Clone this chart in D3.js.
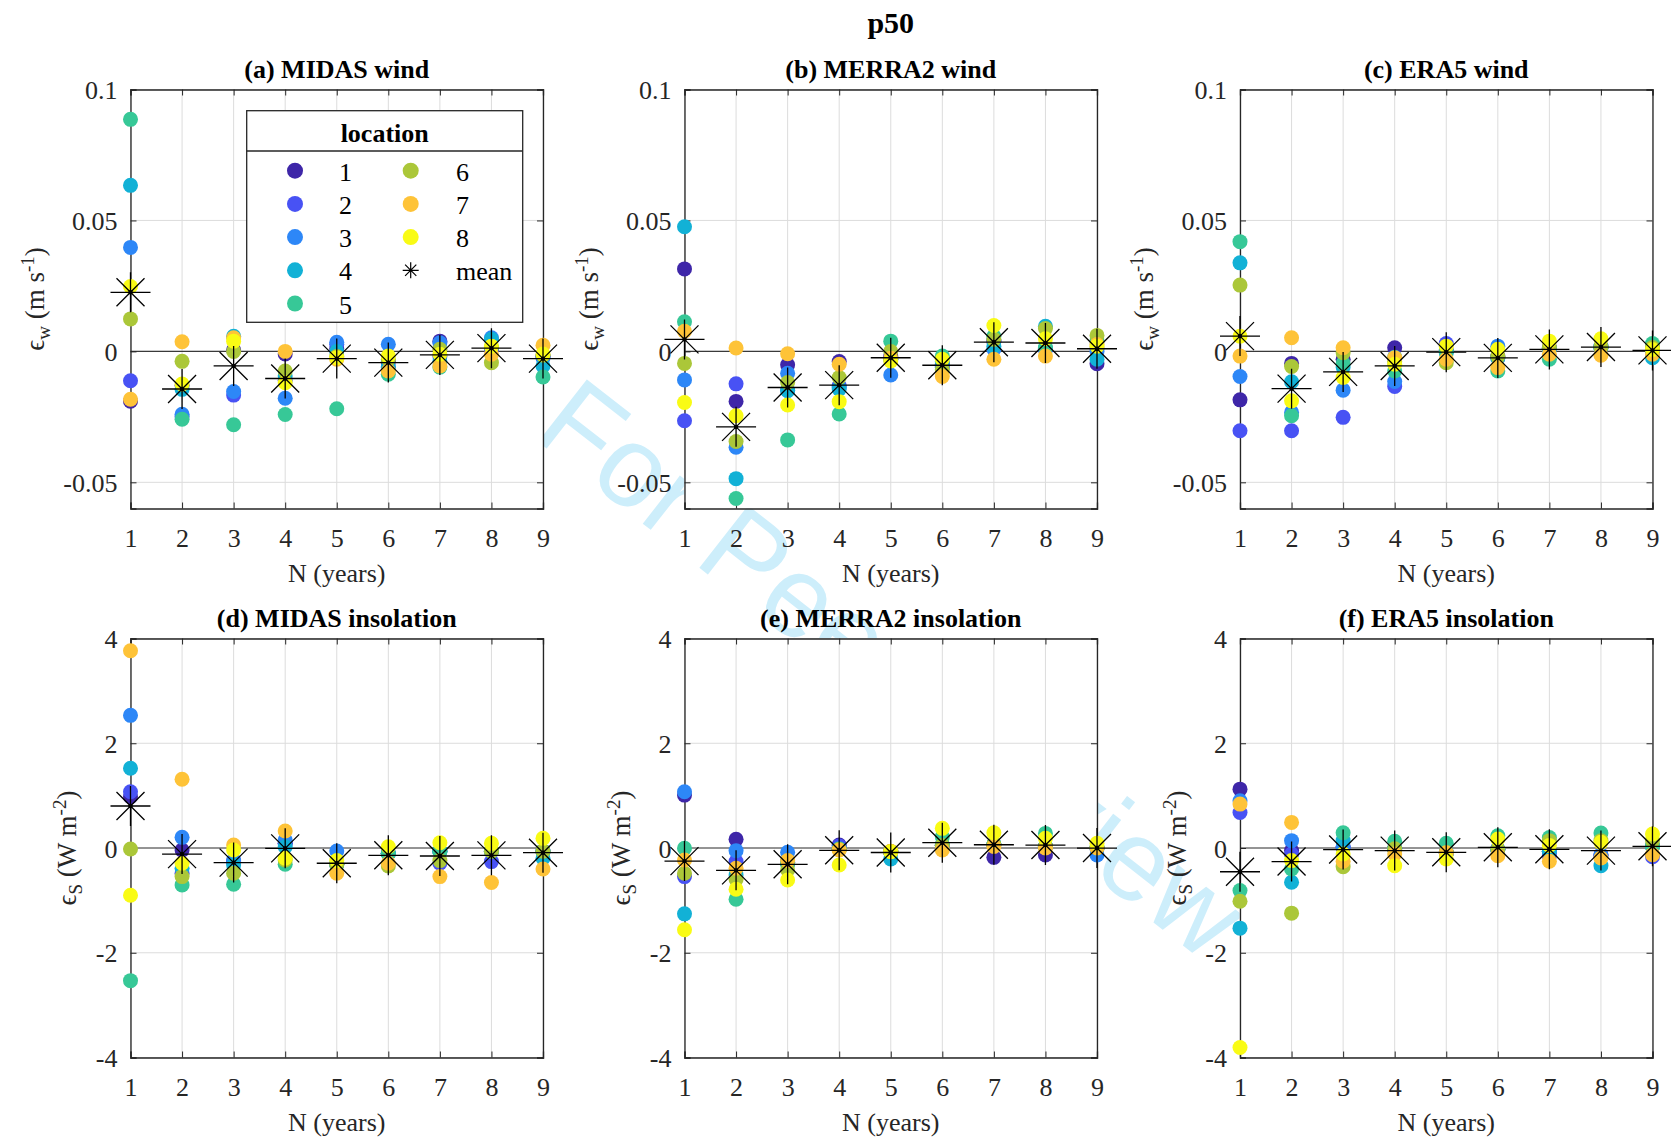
<!DOCTYPE html>
<html>
<head>
<meta charset="utf-8">
<script src="https://cdn.jsdelivr.net/npm/d3@7"></script>
<style>
  body { margin: 0; background: #fff; }
  svg text { font-family: "Liberation Serif", "Times New Roman", serif; }
</style>
</head>
<body>
<svg id="fig" width="1671" height="1137"></svg>
<script>
const years = [1, 2, 3, 4, 5, 6, 7, 8, 9]
const locations = ["1", "2", "3", "4", "5", "6", "7", "8"]
const locColors = ["#3e26a8", "#4852f4", "#2d87f7", "#12b1d6", "#37c897", "#abc739", "#fec338", "#f9fb15"]

const windTicks = [-0.05, 0, 0.05, 0.1]
const insolTicks = [-4, -2, 0, 2, 4]

// one row per N (years), one column per location 1..8
const midasWind = [
  [-0.019, -0.0112, 0.0397, 0.0634, 0.0886, 0.0124, -0.0183, 0.0248],
  [-0.013, -0.025, -0.024, -0.0145, -0.0259, -0.0038, 0.0037, -0.0125],
  [0.0005, -0.0167, -0.0153, 0.0058, -0.028, 0.0, 0.0052, 0.0039],
  [-0.001, -0.011, -0.0179, -0.0094, -0.0241, -0.0075, 0.0, -0.012],
  [0.001, 0.0027, 0.0035, 0.0, -0.0219, -0.002, -0.003, -0.0024],
  [-0.004, -0.006, 0.0027, -0.006, -0.0087, -0.003, -0.0075, -0.0018],
  [0.0039, -0.002, 0.0033, -0.004, -0.006, 0.0008, -0.0056, -0.0011],
  [0.001, 0.001, 0.0052, 0.0046, 0.0015, -0.0043, -0.0011, 0.002],
  [-0.002, -0.002, -0.0025, -0.0056, -0.0098, -0.0015, 0.0023, -0.001]
]
const merra2Wind = [
  [0.0315, -0.0265, -0.0109, 0.0476, 0.0113, -0.0046, 0.0077, -0.0195],
  [-0.0191, -0.0124, -0.0366, -0.0486, -0.0562, -0.0344, 0.0013, -0.0246],
  [-0.0051, -0.0148, -0.0084, -0.015, -0.0338, -0.0119, -0.0009, -0.0205],
  [-0.0039, -0.0131, -0.0138, -0.0144, -0.0239, -0.01, -0.0049, -0.0192],
  [-0.002, -0.003, -0.009, -0.003, 0.0039, 0.0, -0.0026, -0.0037],
  [-0.005, -0.006, -0.006, -0.004, -0.0018, -0.007, -0.0096, -0.003],
  [0.004, 0.004, 0.0008, 0.002, 0.0058, 0.0046, -0.003, 0.0099],
  [0.001, 0.001, 0.0008, 0.0096, 0.0015, 0.0087, -0.0018, 0.0048],
  [-0.0047, 0.001, 0.0, -0.003, 0.004, 0.0061, 0.0026, 0.002]
]
const era5Wind = [
  [-0.0185, -0.0303, -0.0096, 0.0338, 0.0419, 0.0253, -0.0018, 0.0058],
  [-0.0046, -0.0303, -0.0233, -0.0116, -0.0246, -0.0058, 0.0052, -0.0189],
  [-0.003, -0.0252, -0.0148, -0.006, -0.0046, -0.0005, 0.0014, -0.01],
  [0.0014, -0.0134, -0.0115, -0.0022, -0.0075, -0.004, -0.0024, -0.0049],
  [0.0005, 0.003, 0.0, -0.0005, 0.0, -0.0043, -0.003, 0.002],
  [-0.002, -0.0025, 0.002, -0.0025, -0.0075, -0.002, -0.0062, 0.0008],
  [0.0012, 0.0015, 0.001, 0.001, -0.003, 0.0015, -0.0011, 0.0039],
  [0.0016, 0.0018, 0.0014, 0.0018, 0.0016, 0.0017, -0.0015, 0.0048],
  [0.0005, 0.0008, 0.0, -0.0024, 0.003, 0.0015, -0.0011, 0.0007]
]
const midasInsol = [
  [0.978, 1.073, 2.533, 1.524, -2.533, -0.02, 3.765, -0.902],
  [-0.04, -0.48, 0.203, -0.387, -0.705, -0.546, 1.314, -0.292],
  [-0.25, -0.27, -0.229, -0.324, -0.692, -0.483, 0.057, -0.038],
  [0.09, 0.09, 0.152, 0.025, -0.311, -0.229, 0.324, -0.197],
  [-0.31, -0.31, -0.057, -0.3, -0.32, -0.31, -0.483, -0.241],
  [-0.1, -0.1, -0.1, -0.1, -0.11, -0.343, -0.292, 0.025],
  [-0.06, -0.292, -0.06, -0.06, -0.06, -0.241, -0.546, 0.1],
  [-0.06, -0.26, -0.06, -0.06, -0.05, -0.06, -0.66, 0.089],
  [-0.06, -0.06, -0.06, -0.197, -0.06, -0.06, -0.4, 0.184]
]
const merra2Insol = [
  [1.01, -0.546, 1.073, -1.257, -0.006, -0.483, -0.229, -1.562],
  [0.165, -0.26, -0.051, -0.514, -0.978, -0.6, -0.387, -0.787],
  [-0.28, -0.28, -0.083, -0.28, -0.3, -0.42, -0.241, -0.61],
  [0.057, 0.04, -0.02, -0.02, -0.02, -0.03, -0.038, -0.324],
  [-0.07, -0.07, -0.07, -0.21, -0.07, -0.07, -0.06, -0.07],
  [0.05, 0.05, 0.05, 0.06, 0.216, 0.05, -0.038, 0.375],
  [-0.178, 0.07, 0.07, 0.07, 0.07, 0.07, 0.03, 0.292],
  [-0.133, 0.03, 0.03, 0.03, 0.279, 0.03, 0.0, 0.184],
  [0.0, 0.0, -0.133, 0.0, 0.02, 0.02, 0.0, 0.089]
]
const era5Insol = [
  [1.124, 0.679, 0.9, -1.53, -0.813, -1.016, 0.838, -3.81],
  [-0.05, -0.114, 0.14, -0.654, -0.4, -1.244, 0.489, -0.241],
  [0.017, 0.017, 0.017, 0.14, 0.292, -0.356, -0.254, -0.114],
  [-0.015, -0.015, -0.015, -0.015, 0.127, -0.015, -0.114, -0.337],
  [-0.09, -0.09, -0.09, -0.09, 0.089, -0.09, -0.09, -0.21],
  [-0.03, -0.03, -0.03, -0.03, 0.235, -0.03, -0.146, 0.17],
  [-0.063, -0.146, -0.063, -0.063, 0.2, 0.14, -0.254, 0.05],
  [-0.135, -0.135, -0.135, -0.337, 0.286, 0.14, -0.19, 0.108],
  [0.035, -0.165, 0.035, 0.035, 0.035, 0.14, -0.127, 0.267]
]

const panels = [
  {title: "(a) MIDAS wind", data: midasWind, kind: "wind", col: 0, row: 0},
  {title: "(b) MERRA2 wind", data: merra2Wind, kind: "wind", col: 1, row: 0},
  {title: "(c) ERA5 wind", data: era5Wind, kind: "wind", col: 2, row: 0},
  {title: "(d) MIDAS insolation", data: midasInsol, kind: "insol", col: 0, row: 1},
  {title: "(e) MERRA2 insolation", data: merra2Insol, kind: "insol", col: 1, row: 1},
  {title: "(f) ERA5 insolation", data: era5Insol, kind: "insol", col: 2, row: 1}
]

// layout (matlab subplot boxes)
const colLeft = [130.5, 684.5, 1240]
const rowTop = [89.5, 638.5]
const plotW = 412.5, plotH = 419
const axisCol = "#262626"
const fs = 26

const svg = d3.select("#fig")
svg.append("rect").attr("width", 1671).attr("height", 1137).attr("fill", "white")

// review watermark, sits behind everything (axes backgrounds hide it)
svg.append("text")
  .attr("transform", "translate(893,668) rotate(38)")
  .attr("text-anchor", "middle")
  .attr("dy", "0.35em")
  .style("font-family", "'Liberation Sans', Arial, sans-serif")
  .attr("font-size", 115)
  .attr("fill", "#cdeefb")
  .text("For Peer Review")

const starPath = "M-20,0H20M0,-20V20M-14,-14L14,14M-14,14L14,-14"

svg.append("text")
  .attr("x", colLeft[1] + plotW / 2)
  .attr("y", 33)
  .attr("text-anchor", "middle")
  .attr("font-size", 30)
  .attr("font-weight", "bold")
  .text("p50")

const x = d3.scaleLinear().domain([1, 9]).range([0, plotW])

panels.forEach(p => {
  const left = colLeft[p.col], top = rowTop[p.row]
  const ticks = p.kind == "wind" ? windTicks : insolTicks
  const y = d3.scaleLinear()
    .domain(p.kind == "wind" ? [-0.06, 0.1] : [-4, 4])
    .range([plotH, 0])

  const g = svg.append("g").attr("transform", `translate(${left},${top})`)

  g.append("rect").attr("width", plotW).attr("height", plotH).attr("fill", "white")

  // grid
  g.selectAll(".vgrid")
    .data(years)
    .join("line")
    .attr("class", "vgrid")
    .attr("x1", d => x(d)).attr("x2", d => x(d))
    .attr("y1", 0).attr("y2", plotH)
    .attr("stroke", "#dcdcdc")
  g.selectAll(".hgrid")
    .data(ticks)
    .join("line")
    .attr("class", "hgrid")
    .attr("x1", 0).attr("x2", plotW)
    .attr("y1", d => y(d)).attr("y2", d => y(d))
    .attr("stroke", "#dcdcdc")

  // zero reference line
  g.append("line")
    .attr("x1", 0).attr("x2", plotW)
    .attr("y1", y(0)).attr("y2", y(0))
    .attr("stroke", "#3a3a3a")
    .attr("stroke-width", 1.2)

  // axes, ticks pointing inward like matlab
  g.append("g").attr("transform", `translate(0,${plotH})`)
    .call(d3.axisBottom(x).tickValues(years).tickSize(-6).tickPadding(20).tickFormat(d => String(d)))
  g.append("g").call(d3.axisTop(x).tickValues(years).tickSize(-6).tickFormat(""))
  const yl = g.append("g")
    .call(d3.axisLeft(y).tickValues(ticks).tickSize(-6).tickPadding(13).tickFormat(d => String(d)))
  g.append("g").attr("transform", `translate(${plotW},0)`)
    .call(d3.axisRight(y).tickValues(ticks).tickSize(-6).tickFormat(""))

  g.selectAll(".domain").attr("stroke", axisCol).attr("stroke-width", 1.3)
  g.selectAll(".tick line").attr("stroke", axisCol)
  g.selectAll(".tick text").attr("fill", axisCol).attr("font-size", fs)
  yl.selectAll(".tick text").attr("dy", "0.35em")

  // points, one location after another so later ones sit on top
  locations.forEach((loc, j) => {
    g.selectAll(".loc" + j)
      .data(years)
      .join("circle")
      .attr("class", "loc" + j)
      .attr("cx", d => x(d))
      .attr("cy", (d, i) => y(p.data[i][j]))
      .attr("r", 7.5)
      .attr("fill", locColors[j])
  })

  // mean marker
  const means = years.map((d, i) => ({n: d, m: d3.mean(p.data[i])}))
  g.selectAll(".mean")
    .data(means)
    .join("path")
    .attr("class", "mean")
    .attr("transform", d => `translate(${x(d.n)},${y(d.m)})`)
    .attr("d", starPath)
    .attr("stroke", "black")
    .attr("stroke-width", 1.3)
    .attr("fill", "none")
  g.selectAll(".meandot")
    .data(means)
    .join("circle")
    .attr("class", "meandot")
    .attr("cx", d => x(d.n))
    .attr("cy", d => y(d.m))
    .attr("r", 2.2)
    .attr("fill", "black")

  // labels
  svg.append("text")
    .attr("x", left + plotW / 2)
    .attr("y", top - 12)
    .attr("text-anchor", "middle")
    .attr("font-size", fs)
    .attr("font-weight", "bold")
    .text(p.title)

  svg.append("text")
    .attr("x", left + plotW / 2)
    .attr("y", top + plotH + 73.6)
    .attr("text-anchor", "middle")
    .attr("font-size", fs)
    .attr("fill", axisCol)
    .text("N (years)")

  const off = p.kind == "wind" ? 87 : 54.5
  const lab = svg.append("text")
    .attr("transform", `translate(${left - off},${top + plotH / 2}) rotate(-90)`)
    .attr("text-anchor", "middle")
    .attr("font-size", 27)
    .attr("fill", axisCol)
  lab.append("tspan").text("\u03f5")
  lab.append("tspan").attr("font-size", 19).attr("dy", 6).text(p.kind == "wind" ? "w" : "S")
  lab.append("tspan").attr("dy", -6).text(p.kind == "wind" ? " (m s" : " (W m")
  lab.append("tspan").attr("font-size", 19).attr("dy", -10).text(p.kind == "wind" ? "-1" : "-2")
  lab.append("tspan").attr("dy", 10).text(")")
})

// legend in panel (a)
const leg = svg.append("g")
leg.append("rect")
  .attr("x", 246.7).attr("y", 110.7)
  .attr("width", 276).attr("height", 211.6)
  .attr("fill", "white")
  .attr("stroke", axisCol).attr("stroke-width", 1.3)
leg.append("line")
  .attr("x1", 246.7).attr("x2", 522.7)
  .attr("y1", 151).attr("y2", 151)
  .attr("stroke", axisCol).attr("stroke-width", 1.3)
leg.append("text")
  .attr("x", 384.7).attr("y", 141.7)
  .attr("text-anchor", "middle")
  .attr("font-size", fs)
  .attr("font-weight", "bold")
  .text("location")

const legItems = locations.map((l, i) => ({label: l, color: locColors[i], col: i < 5 ? 0 : 1, row: i < 5 ? i : i - 5}))
legItems.push({label: "mean", color: null, col: 1, row: 3})

legItems.forEach(d => {
  const cx = d.col ? 410.7 : 295
  const cy = 170.7 + d.row * 33.2
  if (d.color) {
    leg.append("circle").attr("cx", cx).attr("cy", cy).attr("r", 8).attr("fill", d.color)
  } else {
    leg.append("path")
      .attr("transform", `translate(${cx},${cy}) scale(0.4)`)
      .attr("d", starPath)
      .attr("stroke", "black").attr("stroke-width", 3).attr("fill", "none")
  }
  leg.append("text")
    .attr("x", d.col ? 456 : 339)
    .attr("y", cy + 10)
    .attr("font-size", fs)
    .text(d.label)
})
</script>
</body>
</html>
